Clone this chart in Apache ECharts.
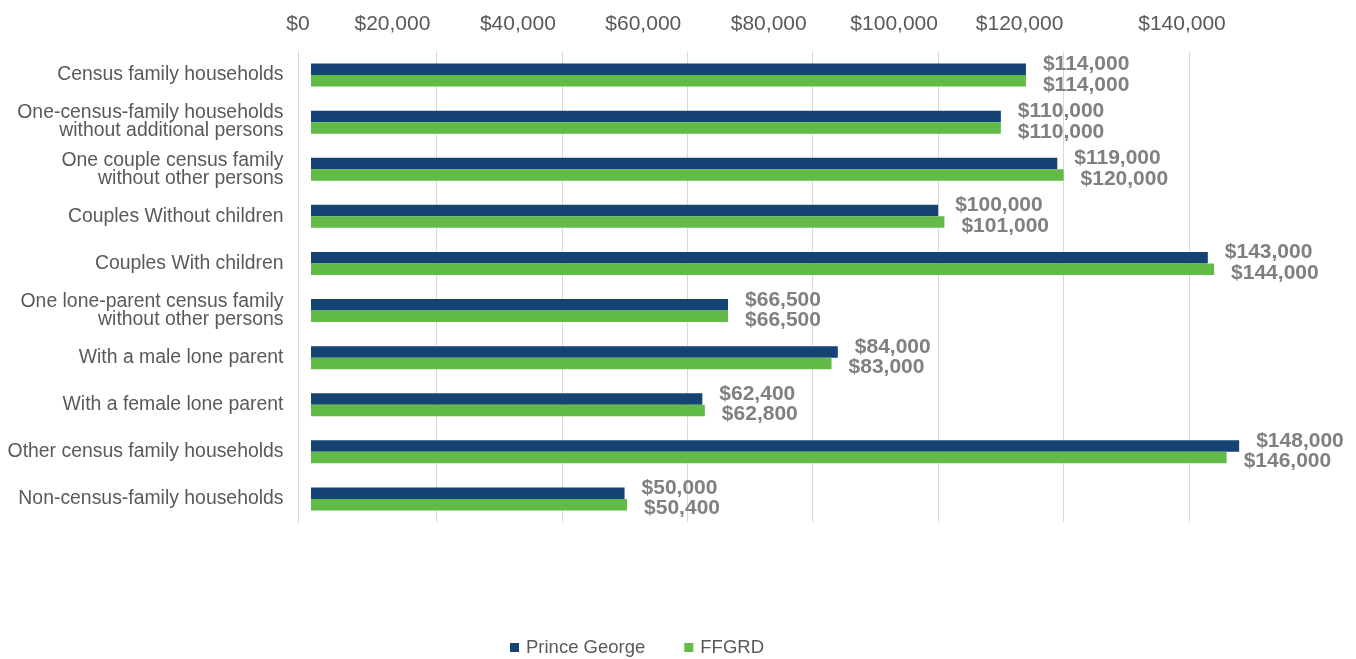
<!DOCTYPE html>
<html>
<head>
<meta charset="utf-8">
<script src="https://cdn.jsdelivr.net/npm/echarts@6/dist/echarts.min.js"></script>
<style>
  html, body { margin: 0; padding: 0; background: #fff; }
  #chart { width: 1356px; height: 659px; }
</style>
</head>
<body>
<div id="chart"></div>
<script>
// household types, top to bottom
const categories = [
  'Census family households',
  'One-census-family households\nwithout additional persons',
  'One couple census family\nwithout other persons',
  'Couples Without children',
  'Couples With children',
  'One lone-parent census family\nwithout other persons',
  'With a male lone parent',
  'With a female lone parent',
  'Other census family households',
  'Non-census-family households'
]
const seriesNames = ['Prince George', 'FFGRD']
const princeGeorge = [114000, 110000, 119000, 100000, 143000, 66500, 84000, 62400, 148000, 50000]
const ffgrd = [114000, 110000, 120000, 101000, 144000, 66500, 83000, 62800, 146000, 50400]

const FONT = 'Liberation Sans'
const money = v => '$' + v.toLocaleString('en-US')

const chart = echarts.init(document.getElementById('chart'))

function barLabel(dy) {
  return {
    show: true,
    position: 'right',
    distance: 17,
    offset: [0, dy],
    color: '#808080',
    fontFamily: FONT,
    fontSize: 21,
    fontWeight: 'bold',
    formatter: p => money(p.value)
  }
}

const tickStyle = pad => ({ fontFamily: FONT, fontSize: 21, color: '#595959', padding: [0, pad, 0, 0] })

const option = {
  animation: false,
  grid: { left: 311, right: 167, top: 51.5, bottom: 136.5 },
  legend: {
    data: seriesNames,
    left: 510,
    top: 638,
    padding: 0,
    icon: 'rect',
    itemWidth: 9,
    itemHeight: 9,
    itemGap: 39,
    textStyle: { fontFamily: FONT, fontSize: 18.5, color: '#595959', padding: [0, 0, 0, 2] }
  },
  xAxis: {
    type: 'value',
    position: 'top',
    min: 0,
    max: 140000,
    interval: 20000,
    axisLine: { show: false },
    axisTick: { show: false },
    splitLine: { showMinLine: false, lineStyle: { color: '#d9d9d9', width: 1 } },
    axisLabel: {
      margin: 17,
      fontFamily: FONT,
      fontSize: 21,
      color: '#595959',
      // labels sit left of their gridlines in the original
      formatter: v => {
        const key = v === 0 ? 'z' : (v === 140000 ? 'e' : 'm')
        return '{' + key + '|' + money(v) + '}'
      },
      rich: { z: tickStyle(26), m: tickStyle(88), e: tickStyle(14) }
    }
  },
  yAxis: {
    type: 'category',
    inverse: true,
    data: categories,
    offset: 12.5,
    axisLine: { show: true, onZero: false, lineStyle: { color: '#d9d9d9', width: 1 } },
    axisTick: { show: false },
    axisLabel: {
      margin: 15,
      fontFamily: FONT,
      fontSize: 19.4,
      lineHeight: 18,
      color: '#595959',
      align: 'right',
      padding: [5, 0, 0, 0]
    }
  },
  series: [
    {
      name: seriesNames[0],
      type: 'bar',
      data: princeGeorge,
      barWidth: 11.5,
      barGap: '0%',
      clip: false,
      itemStyle: { color: '#144374' },
      label: barLabel(-5)
    },
    {
      name: seriesNames[1],
      type: 'bar',
      data: ffgrd,
      barWidth: 11.5,
      barGap: '0%',
      clip: false,
      itemStyle: { color: '#62BB47' },
      label: barLabel(4)
    }
  ]
}

chart.setOption(option)
</script>
</body>
</html>
